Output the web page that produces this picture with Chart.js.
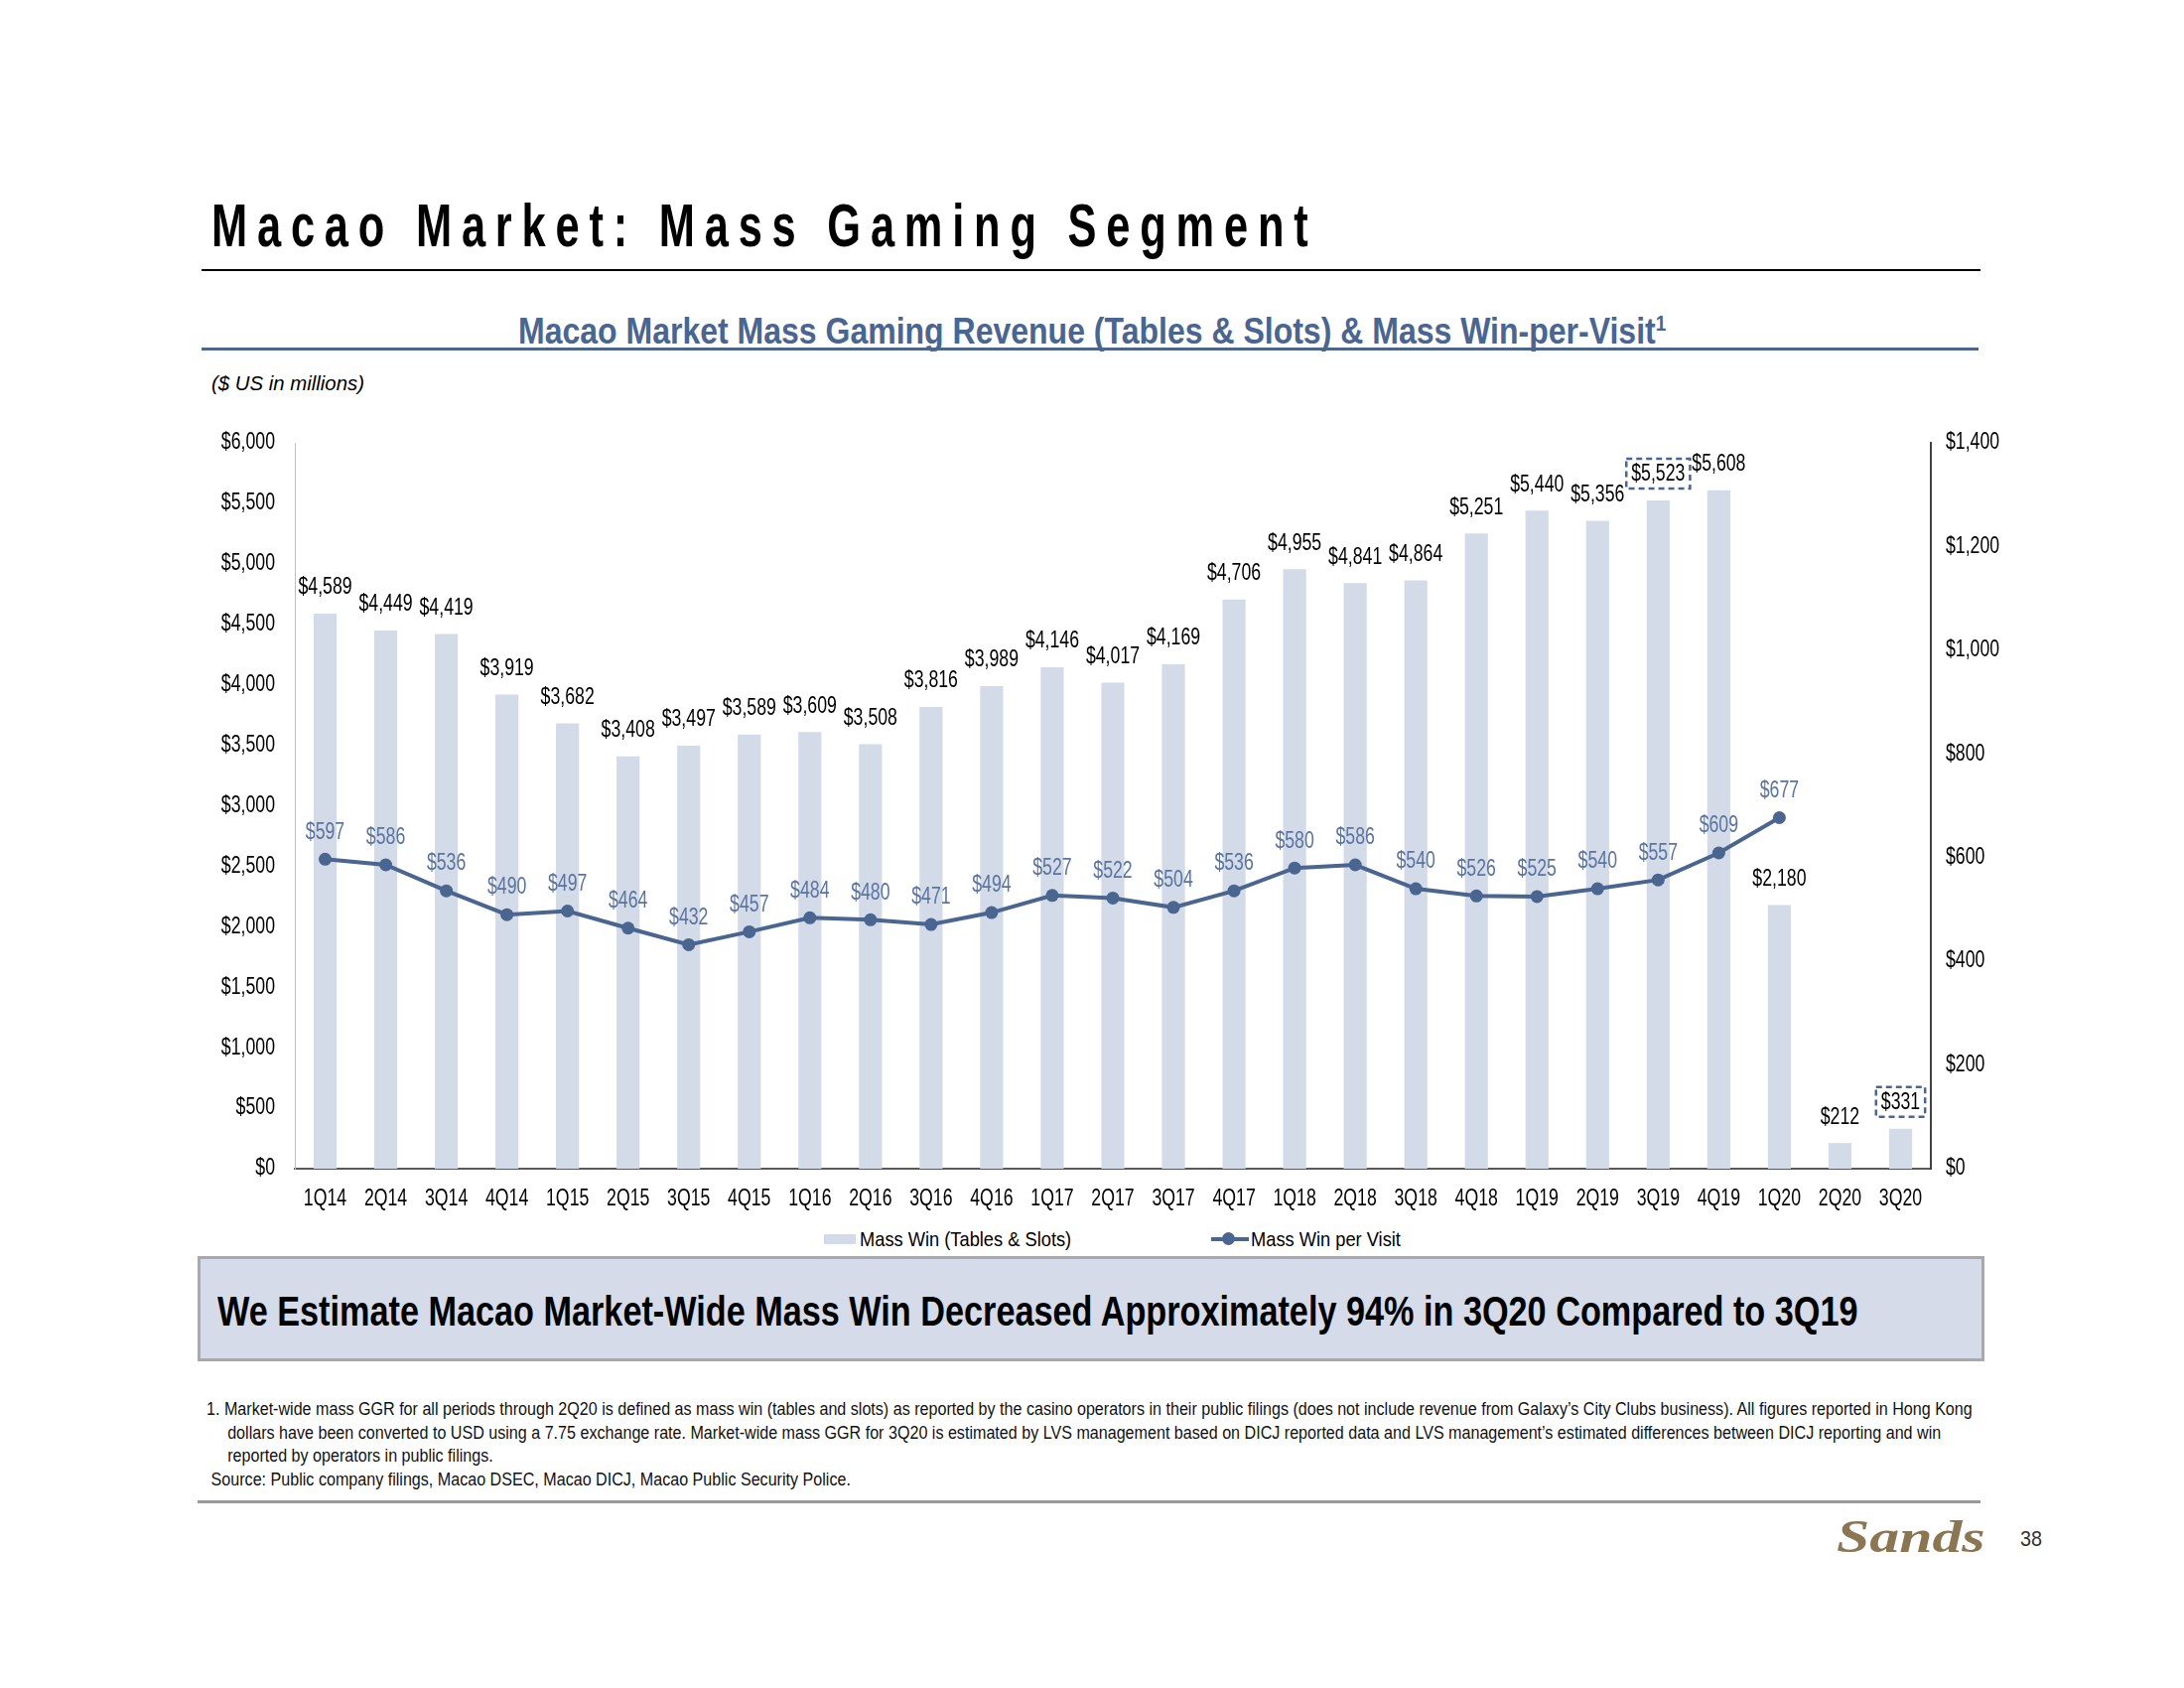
<!DOCTYPE html>
<html>
<head>
<meta charset="utf-8">
<script src="https://cdn.jsdelivr.net/npm/chart.js@4.4.0/dist/chart.umd.min.js"></script>
<style>
  body { margin: 0; width: 2200px; height: 1700px; background: #fff; position: relative; overflow: hidden;
         font-family: "Liberation Sans", Arial, sans-serif; color: #000; }
  .abs { position: absolute; white-space: nowrap; transform-origin: 0 0; }
  #title { left: 213px; top: 196px; font: bold 62px/62px "Liberation Sans", Arial, sans-serif; letter-spacing: 14px; transform: scaleX(0.7); }
  #rule1 { left: 203px; top: 271px; width: 1792px; height: 2px; background: #000; }
  #subtitle { left: 522px; top: 315px; font-weight: bold; font-size: 37px; line-height: 37px; color: #4a6690; transform: scaleX(0.865); }
  #subtitle sup { font-size: 22px; vertical-align: 13px; line-height: 0; }
  #rule2 { left: 203px; top: 350px; width: 1790px; height: 3px; background: #4a6690; }
  #units { left: 213px; top: 374px; font-style: italic; font-size: 21px; line-height: 24px; transform: scaleX(0.97); }
  #wrap { left: 0; top: 400px; width: 2200px; height: 830px; }
  #legend { left: 0; top: 1236px; width: 2200px; height: 24px; font-size: 21px; line-height: 24px; }
  .sw-bar { position: absolute; left: 830px; top: 7px; width: 32px; height: 10px; background: #d3dae8; }
  .sw-line { position: absolute; left: 1220px; top: 10px; width: 38px; height: 4px; background: #4a6590; }
  .sw-dot { position: absolute; left: 1231px; top: 5px; width: 13px; height: 13px; border-radius: 50%; background: #4a6590; }
  .lg { position: absolute; top: 0; transform: scaleX(0.87); transform-origin: 0 0; white-space: nowrap; }
  #banner { left: 199px; top: 1265px; width: 1794px; height: 100px; background: #d5dbe8; border: 3px solid #a7a9ad; }
  #banner span { position: absolute; left: 17px; top: 32px; font-weight: bold; font-size: 42px; line-height: 42px;
                 white-space: nowrap; transform: scaleX(0.815); transform-origin: 0 0; }
  #notes { left: 208px; top: 1408px; font-size: 17.5px; line-height: 23.5px; color: #111; transform: scaleX(0.92); }
  #notes .ind { padding-left: 23px; }
  #notes .src { padding-left: 5px; }
  #rule3 { left: 199px; top: 1511px; width: 1796px; height: 3px; background: #999; }
  #logo { left: 1850px; top: 1523px; font: italic bold 46px/50px "Liberation Serif", "DejaVu Serif", serif; color: #8a7653; transform: scaleX(1.3); }
  #page { left: 2035px; top: 1538px; font-size: 22px; line-height: 24px; color: #333; transform: scaleX(0.9); }
</style>
</head>
<body>
<div id="title" class="abs">Macao Market: Mass Gaming Segment</div>
<div id="rule1" class="abs"></div>
<div id="subtitle" class="abs">Macao Market Mass Gaming Revenue (Tables &amp; Slots) &amp; Mass Win-per-Visit<sup>1</sup></div>
<div id="rule2" class="abs"></div>
<div id="units" class="abs">($ US in millions)</div>
<div id="wrap" class="abs"><canvas id="chart1"></canvas></div>
<div id="legend" class="abs">
  <div class="sw-bar"></div><div class="lg" style="left:866px">Mass Win (Tables &amp; Slots)</div>
  <div class="sw-line"></div><div class="sw-dot"></div><div class="lg" style="left:1260px">Mass Win per Visit</div>
</div>
<div id="banner" class="abs"><span>We Estimate Macao Market-Wide Mass Win Decreased Approximately 94% in 3Q20 Compared to 3Q19</span></div>
<div id="notes" class="abs">
  <div>1. Market-wide mass GGR for all periods through 2Q20 is defined as mass win (tables and slots) as reported by the casino operators in their public filings (does not include revenue from Galaxy’s City Clubs business). All figures reported in Hong Kong</div>
  <div class="ind">dollars have been converted to USD using a 7.75 exchange rate. Market-wide mass GGR for 3Q20 is estimated by LVS management based on DICJ reported data and LVS management’s estimated differences between DICJ reporting and win</div>
  <div class="ind">reported by operators in public filings.</div>
  <div class="src">Source: Public company filings, Macao DSEC, Macao DICJ, Macao Public Security Police.</div>
</div>
<div id="rule3" class="abs"></div>
<div id="logo" class="abs">Sands</div>
<div id="page" class="abs">38</div>

<script>
// Macao mass gaming: quarterly mass win (bars) and mass win per visit (line)
const quarters = ['1Q14', '2Q14', '3Q14', '4Q14', '1Q15', '2Q15', '3Q15', '4Q15', '1Q16', '2Q16', '3Q16', '4Q16',
  '1Q17', '2Q17', '3Q17', '4Q17', '1Q18', '2Q18', '3Q18', '4Q18', '1Q19', '2Q19', '3Q19', '4Q19', '1Q20', '2Q20', '3Q20'];
const massWin = [4589, 4449, 4419, 3919, 3682, 3408, 3497, 3589, 3609, 3508, 3816, 3989,
  4146, 4017, 4169, 4706, 4955, 4841, 4864, 5251, 5440, 5356, 5523, 5608, 2180, 212, 331];
const winPerVisit = [597, 586, 536, 490, 497, 464, 432, 457, 484, 480, 471, 494,
  527, 522, 504, 536, 580, 586, 540, 526, 525, 540, 557, 609, 677, null, null];
const leftTicks = [0, 500, 1000, 1500, 2000, 2500, 3000, 3500, 4000, 4500, 5000, 5500, 6000];
const rightTicks = [0, 200, 400, 600, 800, 1000, 1200, 1400];
const boxedQuarters = ['3Q19', '3Q20'];

const fontFamily = '"Liberation Sans", Arial, sans-serif';
const money = v => '$' + v.toLocaleString('en-US');

const ctx = document.getElementById('chart1').getContext('2d');

// no narrow font installed: squeeze canvas text horizontally around its anchor
const condense = 0.77;
const rawFillText = CanvasRenderingContext2D.prototype.fillText;
ctx.fillText = function (text, x, y) {
  this.save();
  this.translate(x, y);
  this.scale(condense, 1);
  rawFillText.call(this, text, 0, 0);
  this.restore();
};

const valueLabels = {
  id: 'valueLabels',
  afterDatasetsDraw(chart) {
    const c = chart.ctx;
    c.save();
    c.font = '23px ' + fontFamily;
    c.textAlign = 'center';
    c.textBaseline = 'middle';
    chart.getDatasetMeta(1).data.forEach((bar, i) => {
      const txt = money(massWin[i]);
      const y = bar.y - 27;
      c.fillStyle = '#000';
      c.fillText(txt, bar.x, y + 1);
      if (boxedQuarters.includes(quarters[i])) {
        const w = c.measureText(txt).width * condense + 10;
        c.strokeStyle = '#4a6690';
        c.lineWidth = 2.5;
        c.setLineDash([6, 4]);
        c.strokeRect(bar.x - w / 2, y - 15, w, 30);
        c.setLineDash([]);
      }
    });
    c.fillStyle = '#5b74a0';
    chart.getDatasetMeta(0).data.forEach((pt, i) => {
      if (winPerVisit[i] == null) return;
      c.fillText(money(winPerVisit[i]), pt.x, pt.y - 27);
    });
    c.restore();
  }
};

new Chart(ctx, {
  data: {
    labels: quarters,
    datasets: [
      {
        type: 'line',
        label: 'Mass Win per Visit',
        data: winPerVisit,
        yAxisID: 'y1',
        order: 0,
        borderColor: '#4a6590',
        backgroundColor: '#4a6590',
        borderWidth: 4,
        pointRadius: 6.5,
        pointBorderWidth: 0,
        tension: 0,
        spanGaps: false
      },
      {
        type: 'bar',
        label: 'Mass Win (Tables & Slots)',
        data: massWin,
        yAxisID: 'y',
        order: 1,
        backgroundColor: '#d3dae8',
        categoryPercentage: 1,
        barPercentage: 0.38
      }
    ]
  },
  options: {
    responsive: true,
    maintainAspectRatio: false,
    animation: false,
    layout: { padding: { left: 197, right: 155, top: 46, bottom: 0 } },
    plugins: { legend: { display: false }, tooltip: { enabled: false } },
    scales: {
      x: {
        grid: { display: false, drawTicks: false },
        border: { color: '#595959', width: 2 },
        ticks: { color: '#000', font: { family: fontFamily, size: 23 }, padding: 17, maxRotation: 0, autoSkip: false },
        afterFit: s => { s.height = 53; }
      },
      y: {
        position: 'left',
        min: 0, max: 6000,
        afterBuildTicks: s => { s.ticks = leftTicks.map(v => ({ value: v })); },
        grid: { display: false, drawTicks: false },
        border: { color: '#bfbfbf', width: 1 },
        ticks: { color: '#000', font: { family: fontFamily, size: 23 }, padding: 20, callback: v => money(v) },
        afterFit: s => { s.width = 100; }
      },
      y1: {
        position: 'right',
        min: 0, max: 1400,
        afterBuildTicks: s => { s.ticks = rightTicks.map(v => ({ value: v })); },
        grid: { display: false, drawTicks: false },
        border: { color: '#404040', width: 2 },
        ticks: { color: '#000', font: { family: fontFamily, size: 23 }, padding: 15, callback: v => money(v) },
        afterFit: s => { s.width = 100; }
      }
    }
  },
  plugins: [valueLabels]
});
</script>
</body>
</html>
